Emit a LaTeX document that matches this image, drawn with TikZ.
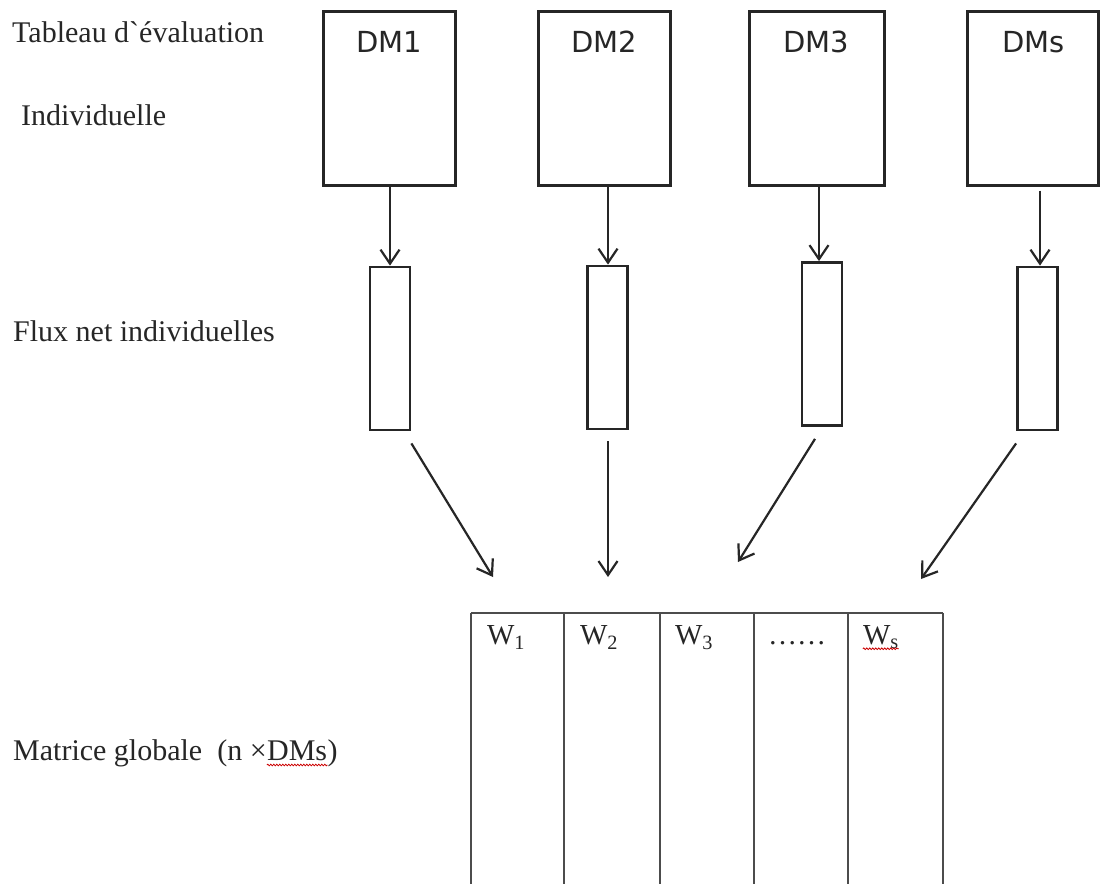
\documentclass[tikz,border=0pt]{standalone}
\usepackage{fontspec}
\setmainfont{Liberation Serif}
\newfontfamily\dmfont{DejaVu Sans}
\usetikzlibrary{arrows.meta,calc,decorations.pathmorphing}
\begin{document}
\begin{tikzpicture}[x=1pt,y=-1pt,
  dmbox/.style={draw=black!85, line width=3pt, minimum height=174pt, inner sep=0pt},
  fluxbox/.style={draw=black!85, line width=2.8pt, minimum width=40pt, minimum height=163pt, inner sep=0pt},
  colbox/.style={inner sep=0pt, minimum height=271pt},
  arr/.style={draw=black!85, line width=2.2pt, -{Straight Barb[length=14pt,width=19pt]}},
  gridline/.style={draw=black!70, line width=1.6pt},
  lbl/.style={anchor=base west, inner sep=0pt, text=black!85, font=\fontsize{30}{36}\selectfont},
  dmlbl/.style={anchor=base, inner sep=0pt, text=black!85, font=\dmfont\fontsize{29}{35}\selectfont},
  wlbl/.style={anchor=base west, inner sep=0pt, text=black!85, font=\fontsize{29}{35}\selectfont},
  spell/.style={draw=red!80!black, line width=0.8pt, decorate, decoration={snake, amplitude=0.8pt, segment length=3pt}}
]
\useasboundingbox[fill=white] (0,0) rectangle (1101,884);

% left labels
\node[lbl] (t1) at (12,42) {Tableau d\textasciigrave évaluation};
\node[lbl] (t2) at (21,125) {Individuelle};
\node[lbl] (t3) at (13,341) {Flux net individuelles};
\node[lbl] (m1) at (13,760) {Matrice globale\ \ (n ×};
\node[lbl, anchor=base west] (m2) at (m1.base east) {DMs};
\node[lbl, anchor=base west] (m3) at (m2.base east) {)};
\draw[spell] ($(m2.base west)+(0,5)$) -- ($(m2.base east)+(0,5)$);

% DM boxes
\node[dmbox, minimum width=132pt] (dm1) at (389,98) {};
\node[dmbox, minimum width=132pt] (dm2) at (604,98) {};
\node[dmbox, minimum width=135pt] (dm3) at (816.5,98) {};
\node[dmbox, minimum width=131pt] (dm4) at (1032.5,98) {};
\node[dmlbl] (dm1t) at ($(dm1.north)+(0,43)$) {DM1};
\node[dmlbl] (dm2t) at ($(dm2.north)+(0,43)$) {DM2};
\node[dmlbl] (dm3t) at ($(dm3.north)+(0,43)$) {DM3};
\node[dmlbl] (dm4t) at ($(dm4.north)+(1,43)$) {DMs};

% flux boxes
\node[fluxbox] (f1) at (390,348.5) {};
\node[fluxbox] (f2) at (607.5,347.5) {};
\node[fluxbox] (f3) at (822,344) {};
\node[fluxbox] (f4) at (1037.5,348.5) {};

% arrows DM -> flux
\coordinate (s1) at ($(dm1.south)+(1,0)$);
\coordinate (s2) at ($(dm2.south)+(4,0)$);
\coordinate (s3) at ($(dm3.south)+(2.5,0)$);
\coordinate (s4) at ($(dm4.south)+(7.5,4)$);
\draw[arr] (s1) -- (s1 |- f1.north);
\draw[arr] (s2) -- (s2 |- f2.north);
\draw[arr] (s3) -- (s3 |- f3.north);
\draw[arr] (s4) -- (s4 |- f4.north);

% matrix columns
\node[colbox, minimum width=93pt] (c1) at (517.5,748.5) {};
\node[colbox, minimum width=96pt] (c2) at (612,748.5) {};
\node[colbox, minimum width=94pt] (c3) at (707,748.5) {};
\node[colbox, minimum width=94pt] (c4) at (801,748.5) {};
\node[colbox, minimum width=95pt] (c5) at (895.5,748.5) {};
\draw[gridline] (c1.north west) -- (c5.north east);
\draw[gridline] (c1.north west) -- (c1.south west);
\draw[gridline] (c2.north west) -- (c2.south west);
\draw[gridline] (c3.north west) -- (c3.south west);
\draw[gridline] (c4.north west) -- (c4.south west);
\draw[gridline] (c5.north west) -- (c5.south west);
\draw[gridline] (c5.north east) -- (c5.south east);

\node[wlbl] (w1) at ($(c1.north west)+(16,32)$) {W\textsubscript{1}};
\node[wlbl] (w2) at ($(c2.north west)+(16,32)$) {W\textsubscript{2}};
\node[wlbl] (w3) at ($(c3.north west)+(15,32)$) {W\textsubscript{3}};
\node[wlbl] (w4) at ($(c4.north west)+(14,32)$) {……};
\node[wlbl] (w5) at ($(c5.north west)+(15,32)$) {W\textsubscript{s}};
\draw[spell] ($(w5.base west)+(0,4)$) -- ($(w5.base east)+(0,4)$);

% arrows flux -> matrix
\coordinate (b1) at ($(f1.south east)+(0,12)$);
\coordinate (b2) at ($(f2.south)+(0.5,11)$);
\coordinate (b3) at ($(f3.south)+(-7,12)$);
\coordinate (b4) at ($(f4.south west)+(0,12)$);
\coordinate (e1) at (493,577);
\coordinate (e2) at (608,577);
\coordinate (e3) at (738,562);
\coordinate (e4) at (921,579);
\draw[arr] (b1) -- (e1);
\draw[arr] (b2) -- (e2);
\draw[arr] (b3) -- (e3);
\draw[arr] (b4) -- (e4);
\end{tikzpicture}
\end{document}
